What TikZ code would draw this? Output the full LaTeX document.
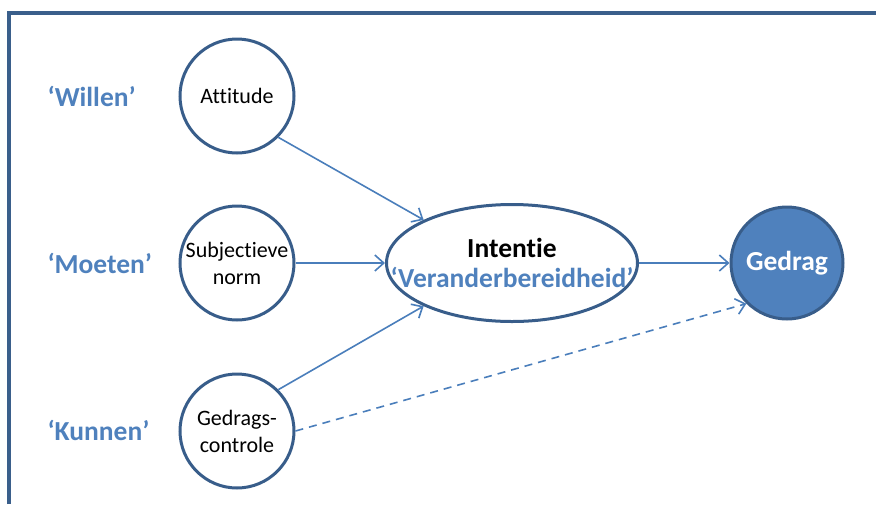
\documentclass[tikz,border=0pt]{standalone}
\usepackage{fontspec}
\setmainfont[Ligatures={NoCommon}]{Carlito}
\usetikzlibrary{shapes.geometric,arrows.meta}
\definecolor{frameblue}{HTML}{3A5F8B}
\definecolor{ringblue}{HTML}{385D8A}
\definecolor{textblue}{HTML}{4F81BD}
\definecolor{linkblue}{HTML}{4A7EBB}
\tikzset{
  factor/.style={circle, draw=ringblue, line width=3pt, fill=white,
    minimum size=114pt, inner sep=0pt, align=center,
    font=\fontsize{22}{27}\selectfont},
  result/.style={circle, draw=ringblue, line width=3pt, fill=textblue,
    minimum size=112pt, inner sep=0pt, text=white,
    font=\fontsize{27.5}{30}\selectfont\bfseries},
  intent/.style={ellipse, draw=ringblue, line width=3pt, fill=white,
    minimum width=251pt, minimum height=117pt, inner sep=0pt},
  tag/.style={anchor=west, text=textblue, font=\fontsize{27.5}{30}\selectfont\bfseries},
  link/.style={draw=linkblue, line width=1.6pt,
    -{Straight Barb[length=9pt, width=16pt, line width=1.6pt]}},
  weaklink/.style={link, dash pattern=on 8pt off 6pt}
}
\begin{document}
\begin{tikzpicture}[x=1pt, y=-1pt]
  \useasboundingbox (0,0) rectangle (876,504);
  % open frame along the left and top edges
  \draw[frameblue, line width=3.5pt] (9,504) -- (9,13) -- (876,13);

  % row labels
  \node[tag] (willen) at (44,96) {‘Willen’};
  \node[tag] (moeten) at (44,263) {‘Moeten’};
  \node[tag] (kunnen) at (44,430) {‘Kunnen’};

  % determinants
  \node[factor] (att) at (237,96) {Attitude};
  \node[factor] (sn) at (237,263) {Subjectieve\\norm};
  \node[factor] (gc) at (237,431) {Gedrags-\\controle};

  % intention
  \node[intent] (int) at (512,263) {};
  \node[align=center, font=\fontsize{27.5}{30}\selectfont\bfseries] (inttxt) at (int.center)
    {Intentie\\\textcolor{textblue}{‘Veranderbereidheid’}};

  % behaviour
  \node[result] (ged) at (787,263) {Gedrag};

  % connectors
  \draw[link] (att.-45) -- (int.154);
  \draw[link] (sn.east) -- (int.west);
  \draw[link] (gc.45) -- (int.206);
  \draw[link] (int.east) -- (ged.west);
  \draw[weaklink] (gc.east) -- (ged.-135);
\end{tikzpicture}
\end{document}
